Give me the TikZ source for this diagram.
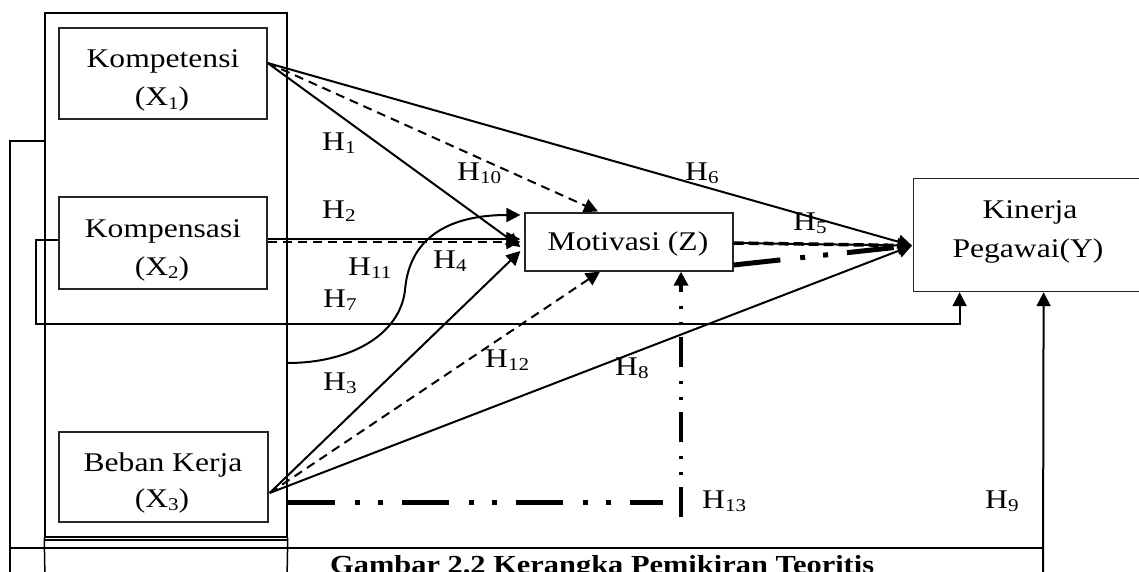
\documentclass[tikz,border=0pt]{standalone}
\usepackage{fontspec}
\setmainfont{Liberation Serif}[FakeStretch=1.17]
\usetikzlibrary{arrows.meta}
\newcommand\subs[1]{\raisebox{-3.5pt}{\fontsize{18}{18}\selectfont #1}}
\begin{document}
\begin{tikzpicture}[x=1pt,y=-1pt,
  box/.style={draw=black!85, line width=1.2pt, inner sep=0pt},
  txt/.style={font=\fontsize{27}{32}\selectfont, inner sep=0pt, anchor=base},
  hl/.style={font=\fontsize{27}{32}\selectfont, inner sep=0pt, anchor=base west},
  tip/.style={-{Triangle[length=14pt,width=14pt]}},
  conn/.style={line width=2pt, tip},
  dsh/.style={dash pattern=on 9pt off 6pt},
  ddot/.style={line width=5pt, dash pattern=on 47pt off 20pt on 5pt off 18pt on 5pt off 19pt},
  vdot/.style={line width=3.5pt, dash pattern=on 30pt off 12pt on 3pt off 13pt on 3pt off 14pt},
  frame/.style={line width=1.5pt}]
\useasboundingbox (0,0) rectangle (1139,572);

% group box and outer frame lines
\node[draw, frame, minimum width=242pt, minimum height=524pt, inner sep=0pt] (G) at (166,275) {};
\draw[frame] (45,540) -- (287,540);
\draw[frame] (G.south west) -- (45,580);
\draw[frame] (G.south east) -- (287,580);

% variable boxes
\node[box, minimum width=208pt, minimum height=91pt] (X1) at (163,73.5) {};
\node[box, minimum width=208pt, minimum height=92pt] (X2) at (163,243) {};
\node[box, minimum width=209pt, minimum height=90pt] (X3) at (163.5,477) {};
\node[box, minimum width=208pt, minimum height=58pt] (Z) at (629,242) {};
\node[box, minimum width=240pt, minimum height=113pt, anchor=north west] (Y) at (913,178) {};

% texts
\node[txt] (X1a) at (163,68) {Kompetensi};
\node[txt] (X1b) at (162,106) {(X\subs{1})};
\node[txt] (X2a) at (163,237) {Kompensasi};
\node[txt] (X2b) at (162,275) {(X\subs{2})};
\node[txt] (X3a) at (163,471) {Beban Kerja};
\node[txt] (X3b) at (162,507) {(X\subs{3})};
\node[txt] (Za) at (628,250) {Motivasi (Z)};
\node[txt] (Ya) at (1030,218) {Kinerja};
\node[txt] (Yb) at (1028,257) {Pegawai(Y)};

% connection points
\coordinate (k1) at ([yshift=10.5pt]X1.east);
\coordinate (k2a) at ([yshift=4pt]X2.east);
\coordinate (k2b) at ([yshift=1pt]X2.east);
\coordinate (k3) at ([xshift=1pt,yshift=-16pt]X3.east);
\coordinate (zc) at ([xshift=-4pt,yshift=27pt]Z.west);
\coordinate (zs) at ([xshift=-4pt,yshift=3pt]Z.west);
\coordinate (zd) at ([xshift=-4pt,yshift=0pt]Z.west);
\coordinate (z1) at ([xshift=-4pt,yshift=-5pt]Z.west);
\coordinate (z3) at ([xshift=-4pt,yshift=-9pt]Z.west);
\coordinate (zt) at ([xshift=-31pt,yshift=1pt]Z.north);
\coordinate (zb) at ([xshift=-29pt]Z.south);
\coordinate (zb2) at ([xshift=52pt]Z.south);
\coordinate (zo1) at ([yshift=-1pt]Z.east);
\coordinate (zo2) at ([yshift=-23pt]Z.east);
\coordinate (yi) at ([xshift=-1pt,yshift=-10.5pt]Y.west);
\coordinate (g4) at (G.east |- 0,363);
\coordinate (g9) at (G.west |- 0,141);
\coordinate (h7) at (36,324);
\coordinate (h9) at (10,548);
\coordinate (h13s) at (G.east |- 0,502);
\coordinate (h13e) at (663,502);
\coordinate (h13b) at (zb2 |- 0,517);

% from Kompetensi
\draw[conn] (k1) -- (yi);
\draw[conn, dsh] (k1) -- (zt);
\draw[conn] (k1) -- (z1);
% from Kompensasi
\draw[conn] (k2a) -- (zs);
\draw[conn, dsh] (k2b) -- (zd);
% from Beban Kerja
\draw[conn] (k3) -- (z3);
\draw[conn, dsh] (k3) -- (zb);
\draw[conn] (k3) -- (yi);
% curve H4
\draw[conn] (g4) .. controls (350,363) and (400,335) .. (405,290)
  .. controls (410,230) and (460,215) .. (zc);
% Motivasi to Kinerja
\draw[conn] (zo1) -- (yi);
\draw[line width=3.5pt, dash pattern=on 10pt off 5pt, shorten >=12pt] (zo1) -- (yi);
\draw[ddot, tip] (zo2) -- (yi);
% H13
\draw[ddot] (h13s) -- (h13e);
\draw[vdot, tip] (h13b) -- (zb2);
% H7
\draw[conn] ([yshift=3pt]X2.west) -| (h7) -| ([xshift=-74pt]Y.south);
% H9
\draw[frame] (g9) -| (10,580);
\draw[frame, line width=2pt] (h9) -- (1043,548);
\draw[conn] (1043,580) -- ([xshift=10pt]Y.south);

% labels
\node[hl] (H1) at (322,150) {H\subs{1}};
\node[hl] (H10) at (457,180) {H\subs{10}};
\node[hl] (H6) at (685,180) {H\subs{6}};
\node[hl] (H2) at (322,218) {H\subs{2}};
\node[hl] (H5) at (793,230) {H\subs{5}};
\node[hl] (H11) at (348,275) {H\subs{11}};
\node[hl] (H4) at (433,268) {H\subs{4}};
\node[hl] (H7) at (323,307) {H\subs{7}};
\node[hl] (H3) at (323,390) {H\subs{3}};
\node[hl] (H12) at (485,367) {H\subs{12}};
\node[hl] (H8) at (615,375) {H\subs{8}};
\node[hl] (H13) at (702,508) {H\subs{13}};
\node[hl] (H9) at (985,508) {H\subs{9}};

% caption (cut off at bottom, as in the reference)
\node[anchor=base west, inner sep=0pt, font=\bfseries\fontsize{26}{30}\selectfont] (cap) at (330,573) {Gambar 2.2 Kerangka Pemikiran Teoritis};
\end{tikzpicture}
\end{document}
